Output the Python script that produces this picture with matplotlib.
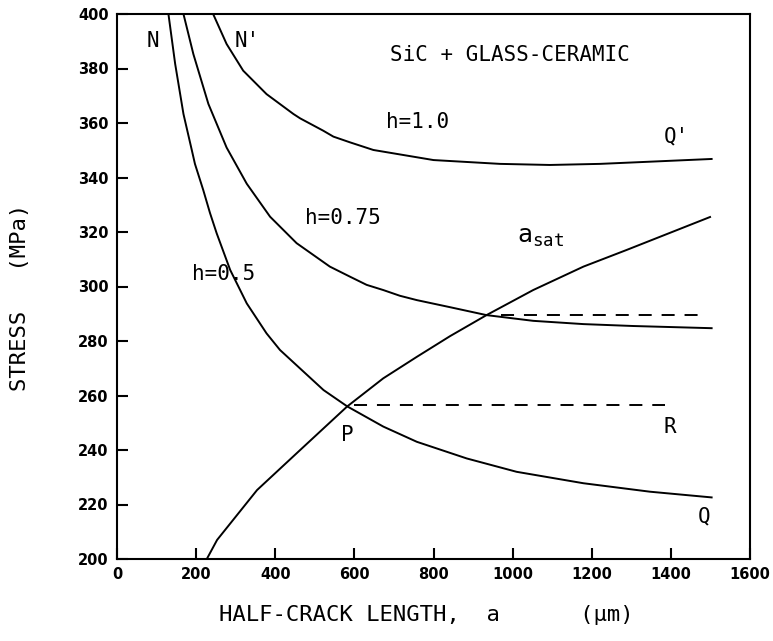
import matplotlib
matplotlib.use("Agg")
import matplotlib.pyplot as plt

# curves: half-crack length a (um) vs stress (MPa)
a_h05 = [130, 147, 168, 189, 197, 218, 235, 252, 286, 328, 378, 412, 522, 582,
         673, 758, 884, 1010, 1179, 1347, 1503]
s_h05 = [400, 381.7, 363.3, 350.1, 345, 335.4, 327, 319.5, 306.1, 293.8, 282.8, 276.7, 262, 256,
         248.6, 243, 236.9, 232, 227.8, 224.7, 222.6]

a_h075 = [168, 193, 231, 277, 328, 387, 454, 538, 589, 631, 673, 715, 758, 842,
          934, 1052, 1179, 1305, 1503]
s_h075 = [400, 385.3, 367, 351, 337.7, 325.6, 315.9, 307.3, 303.6, 300.6, 298.7, 296.6, 295, 292.4,
          289.5, 287.4, 286.2, 285.5, 284.7]

a_h10 = [243, 277, 319, 378, 446, 463, 521, 547, 589, 648, 800, 968, 1094, 1221, 1347, 1503]
s_h10 = [400, 389, 379.2, 370.6, 363.3, 361.7, 357.2, 355, 352.9, 350.1, 346.4, 345, 344.6, 345, 345.8, 346.8]

a_sat = [227, 253, 354, 463, 582, 673, 758, 842, 934, 1052, 1179, 1288, 1499]
s_sat = [200, 207, 225.3, 240, 256, 266.3, 274.2, 281.8, 289.5, 298.7, 307.3, 313.4, 325.5]

a_PR = [600, 1385]
s_PR = [256.4, 256.4]
a_upper = [970, 1469]
s_upper = [289.6, 289.6]

xticks = [0, 200, 400, 600, 800, 1000, 1200, 1400, 1600]
yticks = [200, 220, 240, 260, 280, 300, 320, 340, 360, 380, 400]

mono = "DejaVu Sans Mono"

fig = plt.figure(figsize=(7.73, 6.41), dpi=100)
ax = fig.add_axes([117 / 773, 1 - 559 / 641, 633 / 773, 545 / 641])

lw = 1.4
ax.plot(a_h05, s_h05, color="black", lw=lw)
ax.plot(a_h075, s_h075, color="black", lw=lw)
ax.plot(a_h10, s_h10, color="black", lw=lw)
ax.plot(a_sat, s_sat, color="black", lw=lw)
ax.plot(a_PR, s_PR, color="black", lw=lw, dashes=(6.7, 5.1))
ax.plot(a_upper, s_upper, color="black", lw=lw, dashes=(6.7, 5.1))

ax.set_xlim(0, 1600)
ax.set_ylim(200, 400)
ax.set_xticks(xticks)
ax.set_yticks(yticks)
ax.tick_params(direction="in", length=8, width=1.5, pad=6,
               top=False, right=False, labelsize=10.5)
for lab in ax.get_xticklabels() + ax.get_yticklabels():
    lab.set_fontweight("bold")
for sp in ax.spines.values():
    sp.set_linewidth(1.5)

# annotations
txt = dict(family=mono, fontsize=15, ha="center", va="center")
ax.text(92, 390, "N", **txt)
ax.text(330, 390, "N'", **txt)
ax.text(993, 385, "SiC + GLASS-CERAMIC", **txt)
ax.text(760, 360.4, "h=1.0", **txt)
ax.text(1415, 355, "Q'", **txt)
ax.text(572, 325, "h=0.75", **txt)
ax.text(269, 304.6, "h=0.5", **txt)
ax.text(1070, 318, r"$\mathtt{a_{sat}}$", fontsize=18, ha="center", va="center")
ax.text(581, 245.5, "P", **txt)
ax.text(1398, 248.5, "R", **txt)
ax.text(1483, 215.5, "Q", **txt)

ax.set_xlabel("HALF-CRACK LENGTH,  a      (\u03bcm)", family=mono, fontsize=16)
ax.xaxis.set_label_coords(0.488, -0.084)
ax.set_ylabel("STRESS   (MPa)", family=mono, fontsize=16)
ax.yaxis.set_label_coords(-0.137, 0.48)

fig.savefig("out.png", dpi=100)
